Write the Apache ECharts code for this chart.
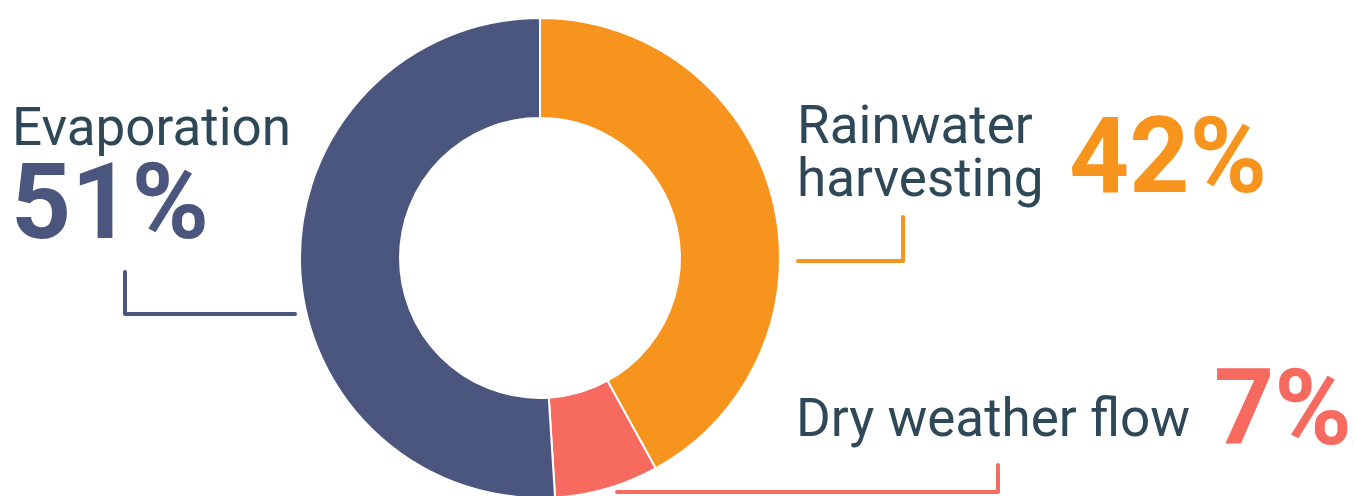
<!DOCTYPE html>
<html>
<head>
<meta charset="utf-8">
<script src="https://cdn.jsdelivr.net/npm/echarts@6/dist/echarts.min.js"></script>
<style>
html,body{margin:0;padding:0;background:#fff;}
#chart{width:1354px;height:496px;}
</style>
</head>
<body>
<div id="chart"></div>
<script>
var categories = ['Rainwater harvesting', 'Dry weather flow', 'Evaporation'];
var values = [42, 7, 51];
var colors = ['#F7941E', '#F66A60', '#4B567F'];

var chart = echarts.init(document.getElementById('chart'), null, {renderer: 'canvas'});
var textColor = '#2E4858';
var FONT = 'Roboto, "Noto Sans", sans-serif';

function txt(t, x, y, size, weight, color) {
  return {type: 'text', x: x, y: y, silent: true,
    style: {text: t, fontSize: size, fontWeight: weight, fontFamily: FONT, fill: color, verticalAlign: 'middle', align: 'left'}};
}
function line(pts, color) {
  return {type: 'polyline', silent: true, shape: {points: pts},
    style: {stroke: color, lineWidth: 4, lineCap: 'round', lineJoin: 'round', fill: null}};
}

var option = {
  backgroundColor: '#fff',
  animation: false,
  series: [{
    type: 'pie',
    center: [540, 258],
    radius: [140, 240],
    startAngle: 90,
    clockwise: true,
    label: {show: false},
    labelLine: {show: false},
    emphasis: {disabled: true},
    itemStyle: {borderColor: '#fff', borderWidth: 2},
    data: categories.map(function (c, i) {
      return {name: c, value: values[i], itemStyle: {color: colors[i]}};
    })
  }],
  graphic: [
    txt(categories[2], 12, 132, 53, 'normal', textColor),
    txt(values[2] + '%', 11, 212, 105, 'bold', colors[2]),
    line([[295, 314], [125, 314], [125, 272]], colors[2]),

    txt('Rainwater', 797, 130, 53, 'normal', textColor),
    txt('harvesting', 797, 183, 53, 'normal', textColor),
    txt(values[0] + '%', 1069, 166, 105, 'bold', colors[0]),
    line([[798, 261], [903, 261], [903, 217]], colors[0]),

    txt(categories[1], 796, 423, 53, 'normal', textColor),
    txt(values[1] + '%', 1214, 418, 105, 'bold', colors[1]),
    line([[617, 492], [998, 492], [998, 465]], colors[1])
  ]
};
chart.setOption(option);
</script>
</body>
</html>
